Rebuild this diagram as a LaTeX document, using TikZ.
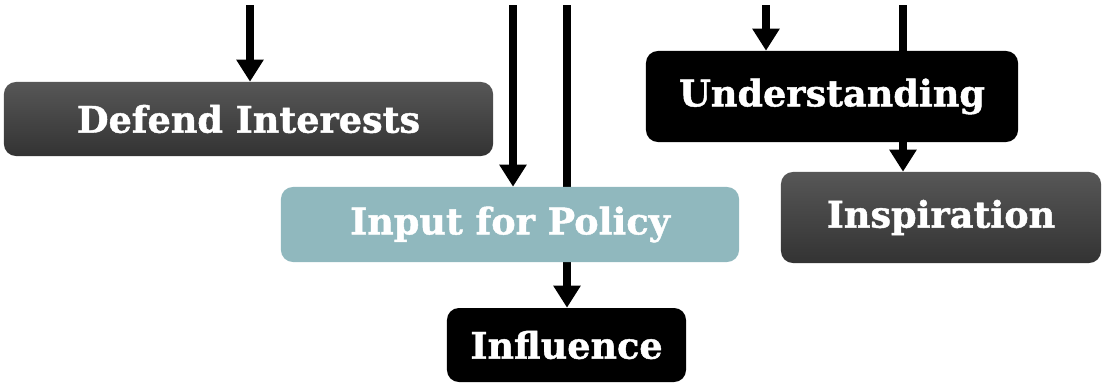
\documentclass[tikz,border=0pt]{standalone}
\usepackage{fontspec}
\setmainfont{DejaVu Serif}[BoldFeatures={FakeBold=1.2}]
\usetikzlibrary{arrows.meta,shapes,positioning}
\definecolor{policy}{HTML}{90B8BE}

\begin{document}
\begin{tikzpicture}[x = 0.025cm, y = -0.025cm,
                        box/.style = {rounded corners = 0.3cm, text = white, inner sep = 0mm,
                        font = \bfseries\fontsize{26}{30}\selectfont},
                        dark_box/.style = {box, top color = black!66, bottom color = black!80},
                        black_box/.style = {box, fill = black},
                        policy_box/.style = {box, fill = policy},
                        flow/.style = {line width = 0.2cm, -{Triangle[width = 0.65cm, length = 0.55cm]}}]
        \pgfdeclarelayer{bg}    % declare background layer
        \pgfsetlayers{bg,main}
        \useasboundingbox (0,0) rectangle (1103,384);
        %boxes
        \node[dark_box, minimum width = 12.225cm, minimum height = 1.85cm] (defend) at (248.5,119) {Defend Interests};
        \node[black_box, minimum width = 9.3cm, minimum height = 2.275cm] (understanding) at (832,96.5) {Understanding};
        \node[policy_box, minimum width = 11.45cm, minimum height = 1.875cm] (policy) at (510,224.5) {Input for Policy};
        \node[dark_box, minimum width = 8cm, minimum height = 2.275cm] (inspiration) at (941,217.5) {Inspiration};
        \node[black_box, minimum width = 5.975cm, minimum height = 1.85cm] (influence) at (566.5,345) {Influence};
        %top ends
        \coordinate (in_defend) at (250,5);
        \coordinate (in_policy) at (513,5);
        \coordinate (in_influence) at (567,5);
        \coordinate (in_understanding) at (766,5);
        \coordinate (in_inspiration) at (903,5);
        \begin{pgfonlayer}{bg}    % select the background layer
            \draw[flow] (in_defend) -- (in_defend |- defend.north);
            \draw[flow] (in_policy) -- (in_policy |- policy.north);
            \draw[flow] (in_influence) -- (in_influence |- influence.north);
            \draw[flow] (in_understanding) -- (in_understanding |- understanding.north);
            \draw[flow] (in_inspiration) -- (in_inspiration |- inspiration.north);
        \end{pgfonlayer}
    \end{tikzpicture}
\end{document}
